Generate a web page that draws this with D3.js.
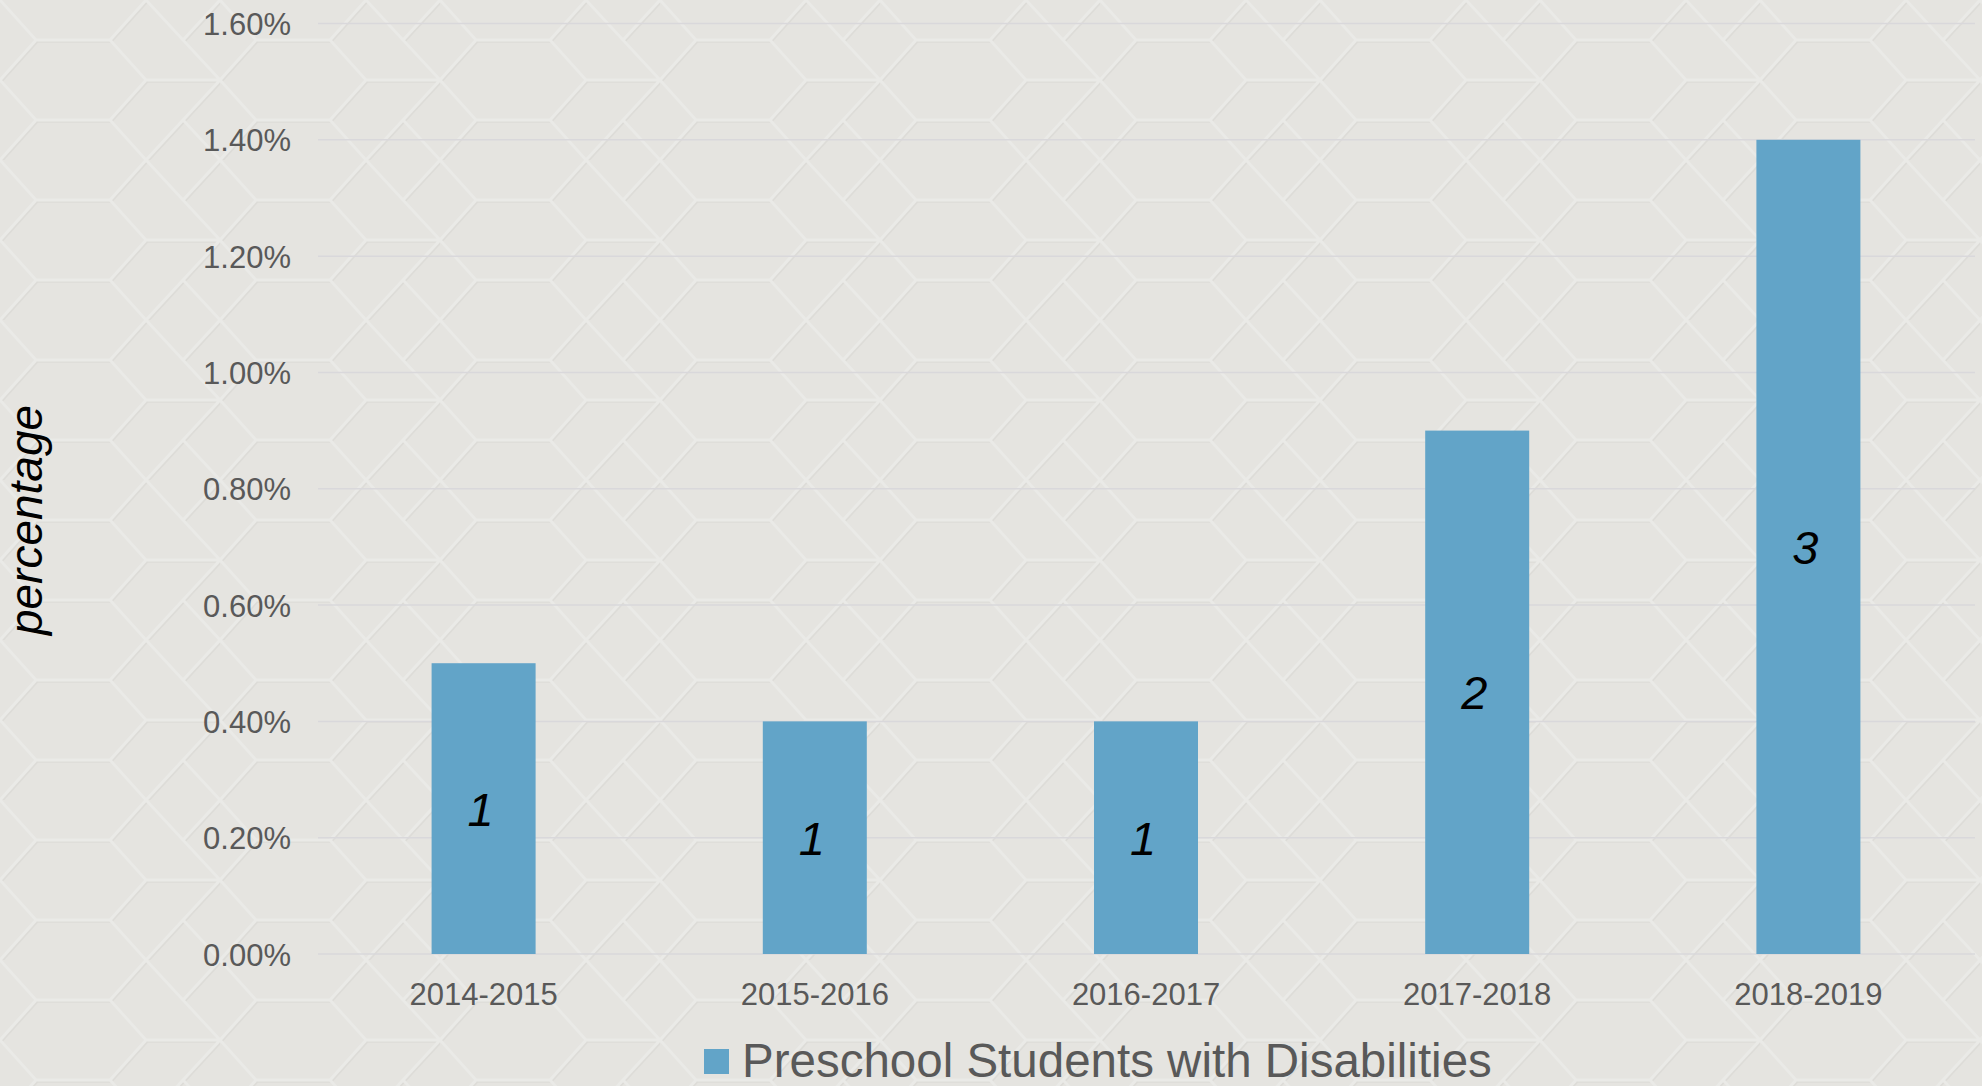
<!DOCTYPE html>
<html>
<head>
<meta charset="utf-8">
<script src="https://cdn.jsdelivr.net/npm/d3@7"></script>
<style>
  html, body { margin: 0; padding: 0; background: #e5e4e0; }
  svg { display: block; }
</style>
</head>
<body>
<script>
const categories = ["2014-2015", "2015-2016", "2016-2017", "2017-2018", "2018-2019"];
const values = [0.005, 0.004, 0.004, 0.009, 0.014];
const counts = ["1", "1", "1", "2", "3"];
const yTicks = [0, 0.002, 0.004, 0.006, 0.008, 0.010, 0.012, 0.014, 0.016];
const seriesName = "Preschool Students with Disabilities";
const yTitle = "percentage";

const W = 1982, H = 1086;
const svg = d3.select("body").append("svg").attr("width", W).attr("height", H);

// background texture
const defs = svg.append("defs");
const pat = defs.append("pattern").attr("id", "lattice").attr("patternUnits", "userSpaceOnUse")
  .attr("width", 220).attr("height", 160);
const tile = "M0,80 L36,40 L110,40 L146,0 M110,40 L146,80 L110,120 L36,120 L0,80 M146,80 L220,80 M110,120 L146,160 M36,120 L0,160 M36,40 L0,0 M146,0 L183,40 L220,0 M183,40 L220,80 M146,160 L183,120 L220,160 M183,120 L220,80";
pat.append("rect").attr("width", 220).attr("height", 160).attr("fill", "#e5e4e0");
pat.append("path").attr("d", tile).attr("fill", "none").attr("stroke", "#dddcd8").attr("stroke-width", 1.6).attr("transform", "translate(1.5,2)");
pat.append("path").attr("d", tile).attr("fill", "none").attr("stroke", "#eaeae7").attr("stroke-width", 3);
svg.append("rect").attr("width", W).attr("height", H).attr("fill", "url(#lattice)");

const x = d3.scaleBand().domain(categories).range([318, 1974]).padding(0);
const y = d3.scaleLinear().domain([0, 0.016]).range([954, 23.5]);
const barW = x.bandwidth() * 0.314;

// gridlines
svg.append("g").selectAll("line").data(yTicks).join("line")
  .attr("x1", 318).attr("x2", 1975)
  .attr("y1", d => y(d)).attr("y2", d => y(d))
  .attr("stroke", "#d9d8db").attr("stroke-width", 1.5);

// y axis labels
const yAxis = d3.axisLeft(y).tickValues(yTicks).tickFormat(d3.format(".2%")).tickSize(0).tickPadding(0);
const gy = svg.append("g").attr("transform", "translate(291,0)").call(yAxis);
gy.select(".domain").remove();
gy.selectAll("text").attr("font-family", "Liberation Sans, Arial, sans-serif")
  .attr("font-size", 31).attr("fill", "#595959").attr("dy", "0.36em");

// bars
svg.append("g").selectAll("rect").data(values).join("rect")
  .attr("x", (d, i) => x(categories[i]) + x.bandwidth() / 2 - barW / 2)
  .attr("width", barW)
  .attr("y", d => y(d))
  .attr("height", d => y(0) - y(d))
  .attr("fill", "#62a4c8");

// bar labels
svg.append("g").selectAll("text").data(values).join("text")
  .attr("x", (d, i) => x(categories[i]) + x.bandwidth() / 2 - 3)
  .attr("y", d => (y(d) + y(0)) / 2)
  .attr("dy", "0.36em")
  .attr("text-anchor", "middle")
  .attr("font-family", "Liberation Sans, Arial, sans-serif")
  .attr("font-style", "italic")
  .attr("font-size", 47)
  .attr("fill", "#000")
  .text((d, i) => counts[i]);

// x axis labels
const xAxis = d3.axisBottom(x).tickSize(0).tickPadding(0);
const gx = svg.append("g").attr("transform", "translate(0,1005)").call(xAxis);
gx.select(".domain").remove();
gx.selectAll("text").attr("font-family", "Liberation Sans, Arial, sans-serif")
  .attr("font-size", 31).attr("fill", "#595959").attr("dy", 0).attr("y", 0);

// y title
svg.append("text")
  .attr("transform", "translate(42,520) rotate(-90)")
  .attr("text-anchor", "middle")
  .attr("font-family", "Liberation Sans, Arial, sans-serif")
  .attr("font-style", "italic")
  .attr("font-size", 46)
  .attr("fill", "#000")
  .text(yTitle);

// legend
const lg = svg.append("g");
lg.append("rect").attr("x", 704).attr("y", 1049).attr("width", 25).attr("height", 25).attr("fill", "#62a4c8");
lg.append("text").attr("x", 742).attr("y", 1077)
  .attr("font-family", "Liberation Sans, Arial, sans-serif")
  .attr("font-size", 47.5).attr("fill", "#595959")
  .text(seriesName);
</script>
</body>
</html>
